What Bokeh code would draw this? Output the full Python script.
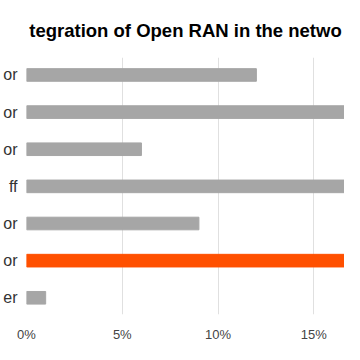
from bokeh.plotting import figure
from bokeh.models import ColumnDataSource, FixedTicker, Range1d
from bokeh.embed import file_html
from bokeh.resources import INLINE

# Data (visible fragments of the cropped reference)
labels = ["or", "or", "or", "ff", "or", "or", "er"]
values = [12, 20, 6, 19, 9, 24, 1]
colors = ["#a6a6a6", "#a6a6a6", "#a6a6a6", "#a6a6a6", "#a6a6a6", "#ff5000", "#a6a6a6"]
title_text = "tegration of Open RAN in the netwo"

n = len(labels)
ypos = [n - i for i in range(n)]
source = ColumnDataSource(dict(y=ypos, v=values, c=colors))

p = figure(width=344, height=344, output_backend="svg", toolbar_location=None,
           x_range=Range1d(0, 16.6), y_range=Range1d(0.55, 7.47),
           min_border_left=15, min_border_right=0, min_border_top=56, min_border_bottom=8)

p.hbar(y="y", right="v", left=0, height=0.34, color="c", source=source)

p.title.text = title_text
p.title.text_font = "Liberation Sans"
p.title.text_font_size = "18.5px"
p.title.text_font_style = "bold"
p.title.align = "center"
p.title.text_color = "#000000"
p.title.offset = 0
p.title.standoff = 34

p.outline_line_color = None
p.background_fill_color = "white"
p.border_fill_color = "white"

p.xaxis.ticker = FixedTicker(ticks=[0, 5, 10, 15])
p.xaxis.major_label_overrides = {0: "0%", 5: "5%", 10: "10%", 15: "15%"}
p.xaxis.axis_line_color = None
p.xaxis.major_tick_line_color = None
p.xaxis.minor_tick_line_color = None
p.xaxis.major_label_text_font = "Liberation Sans"
p.xaxis.major_label_text_font_size = "13px"
p.xaxis.major_label_text_color = "#444444"
p.xaxis.major_label_standoff = 6

p.yaxis.ticker = FixedTicker(ticks=ypos)
p.yaxis.major_label_overrides = {y: l for y, l in zip(ypos, labels)}
p.yaxis.axis_line_color = None
p.yaxis.major_tick_line_color = None
p.yaxis.minor_tick_line_color = None
p.yaxis.major_label_text_font = "Liberation Sans"
p.yaxis.major_label_text_font_size = "16px"
p.yaxis.major_label_text_color = "#333333"
p.yaxis.major_label_standoff = 3

p.xgrid.grid_line_color = "#e0e0e0"
p.ygrid.grid_line_color = None

open("out.html", "w").write(file_html(p, INLINE))
